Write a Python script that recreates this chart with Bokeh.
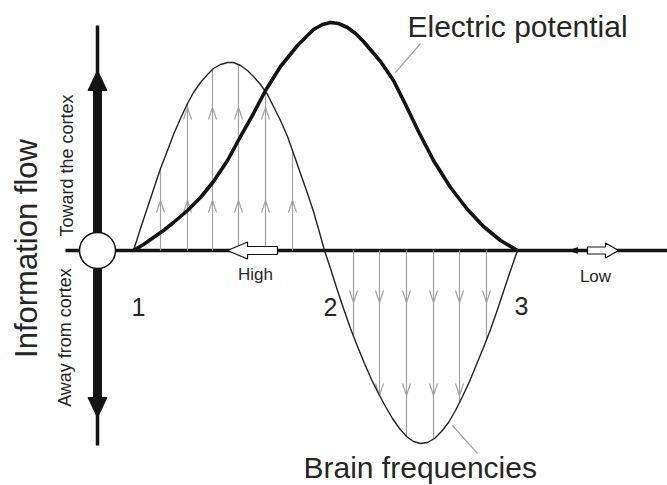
from bokeh.plotting import figure
from bokeh.models import Range1d
from bokeh.core.properties import value
from bokeh.embed import file_html
from bokeh.resources import INLINE

# ---------------- data (x = position along the axis, y = height above the axis) ----------------
# Electric potential (thick bell curve between points 1 and 3)
ep_x = [133, 143, 153, 163, 173, 187, 200, 213, 227, 240, 253, 265, 280, 297, 313, 322, 330, 338,
        347, 355, 363, 380, 393, 405, 418, 433, 450, 467, 483, 500, 517]
ep_y = [0, 6, 13, 20, 28, 40, 53, 69, 90, 114, 137, 160, 184, 205, 221, 226, 228, 227,
        223, 217, 209, 189, 170, 146, 119, 90, 63, 41, 24, 10, 0]

# Brain frequencies (thin oscillation: up lobe 1->2, down lobe 2->3)
bf_x = [133, 140, 147, 153, 160, 167, 173, 180, 187, 193, 200, 207, 213, 220, 227, 233, 240, 247,
        253, 260, 267, 273, 280, 287, 293, 300, 307, 313, 319, 324,
        330, 336, 343, 350, 357, 364, 371, 378, 385, 392, 399, 406, 413, 420, 427, 434, 441, 448,
        455, 462, 469, 476, 483, 490, 497, 504, 510, 517]
bf_y = [0, 22, 43, 61, 82, 100, 116, 132, 147, 158, 168, 176, 182, 186, 188, 188, 185, 180,
        174, 166, 156, 144, 130, 114, 97, 77, 57, 39, 18, 0,
        -18, -37, -58, -78, -96, -113, -129, -143, -156, -168, -178, -186, -191, -193, -192, -188, -181, -172,
        -160, -146, -131, -114, -97, -79, -59, -38, -20, 0]

# Flow lines toward the cortex (upper lobe)
up_x = [160, 187, 212, 238, 265, 292]
up_end = [82, 147, 181, 186, 159, 100]
up_tip_low = [50, 50, 50, 50, 50, 50]
up_x_high = [187, 212, 238, 265]
up_tip_high = [143, 143, 143, 143]

# Flow lines away from the cortex (lower lobe)
dn_x = [353, 379, 406, 433, 459, 486]
dn_end = [-86, -145, -186, -189, -152, -89]
dn_tip_high = [-52, -52, -52, -52, -52, -52]
dn_x_low = [379, 406, 433, 459]
dn_tip_low = [-145, -145, -145, -145]

# Points 1, 2, 3 and their labels
point_labels = ["1", "2", "3"]
point_label_x = [138, 330, 521]
point_label_y = [-65, -65, -64]

# Information-flow axis extent
flow_x = 97
flow_top, flow_bottom = 225, -195
flow_head_top, flow_head_bottom = 180, -167
flow_base_top, flow_base_bottom = 160, -147

# ---------------- figure ----------------
p = figure(width=667, height=485, output_backend="svg", toolbar_location=None,
           x_range=Range1d(0, 667), y_range=Range1d(-235, 250), min_border=0)
p.axis.visible = False
p.grid.visible = False
p.outline_line_color = None
p.background_fill_color = "white"
p.border_fill_color = "white"

INK = "#141414"
GRAY = "#a3a3a3"
TXT = "#262626"
FONT = value("Liberation Sans")
SH = 0.35  # baseline correction (fraction of font size) for the renderer's text placement

# horizontal axis
p.line([65, 670], [0, 0], line_width=3.5, line_color=INK)

# vertical information-flow double arrow
p.line([flow_x, flow_x], [flow_bottom, flow_top], line_width=3.5, line_color=INK)
p.line([flow_x, flow_x], [flow_base_bottom, flow_base_top], line_width=9, line_color=INK)
hw = 9.5
p.patches(xs=[[flow_x - hw, flow_x + hw, flow_x], [flow_x - hw, flow_x + hw, flow_x]],
          ys=[[flow_base_top, flow_base_top, flow_head_top],
              [flow_base_bottom, flow_base_bottom, flow_head_bottom]],
          fill_color=INK, line_color=INK)
p.scatter([flow_x], [0], size=36, marker="circle", fill_color="white",
          line_color=INK, line_width=1.5)

# gray flow lines
p.multi_line(xs=[[x, x] for x in up_x], ys=[[0, e] for e in up_end],
             line_color=GRAY, line_width=1.2)
p.multi_line(xs=[[x, x] for x in dn_x], ys=[[0, e] for e in dn_end],
             line_color=GRAY, line_width=1.2)

aw, al = 4, 12
def chevrons(xs, tips, direction):
    return ([[x - aw, x, x + aw] for x in xs],
            [[t - direction * al, t, t - direction * al] for t in tips])

for xs_, tips_, d in [(up_x, up_tip_low, 1), (up_x_high, up_tip_high, 1),
                      (dn_x, dn_tip_high, -1), (dn_x_low, dn_tip_low, -1)]:
    cx, cy = chevrons(xs_, tips_, d)
    p.multi_line(xs=cx, ys=cy, line_color=GRAY, line_width=1.2)

# curves
p.line(bf_x, bf_y, line_color="#222222", line_width=1.4, line_join="round")
p.line(ep_x, ep_y, line_color=INK, line_width=3.6, line_join="round")

# leader lines
p.line([420, 395], [207, 178], line_color=GRAY, line_width=1.2)
p.line([452, 477], [-175, -203], line_color=GRAY, line_width=1.2)

# block arrows "High" (pointing left) and "Low" (pointing right)
def block_arrow(tip, d, head_len, head_h, shaft_len, shaft_h):
    b = tip + d * head_len
    e = tip + d * (head_len + shaft_len)
    return ([tip, b, b, e, e, b, b], [0, head_h, shaft_h, shaft_h, -shaft_h, -shaft_h, -head_h])

hx, hy = block_arrow(227, 1, 20, 8.5, 30, 4)
lx, ly = block_arrow(618, -1, 13, 7.5, 18, 3.5)
p.patches(xs=[hx, lx], ys=[hy, ly], fill_color="white", line_color=INK, line_width=1.2)
p.patch([569, 577, 577], [0, 2.8, -2.8], fill_color=INK, line_color=INK)

# texts (rotated texts read bottom-to-top; their baseline lies on their right side)
def vtext(x, y, s, fs):
    p.text(x=[x - SH * fs], y=[y], text=[s], angle=1.5708, text_font=FONT,
           text_font_size=f"{fs}px", text_color=TXT, text_align="center",
           text_baseline="alphabetic")

def htext(xs, ys, ss, fs, align="center"):
    p.text(x=xs, y=[y + SH * fs for y in ys], text=ss, text_font=FONT,
           text_font_size=f"{fs}px", text_color=TXT, text_align=align,
           text_baseline="alphabetic")

vtext(37, 2, "Information flow", 31)
vtext(73, 85, "Toward the cortex", 18)
vtext(71, -87, "Away from cortex", 18)

htext(point_label_x, point_label_y, point_labels, 25)
htext([255, 595], [-30, -32], ["High", "Low"], 17)
htext([407], [214], ["Electric potential"], 30, "left")
htext([303], [-227], ["Brain frequencies"], 30, "left")

open("out.html", "w").write(file_html(p, INLINE))
